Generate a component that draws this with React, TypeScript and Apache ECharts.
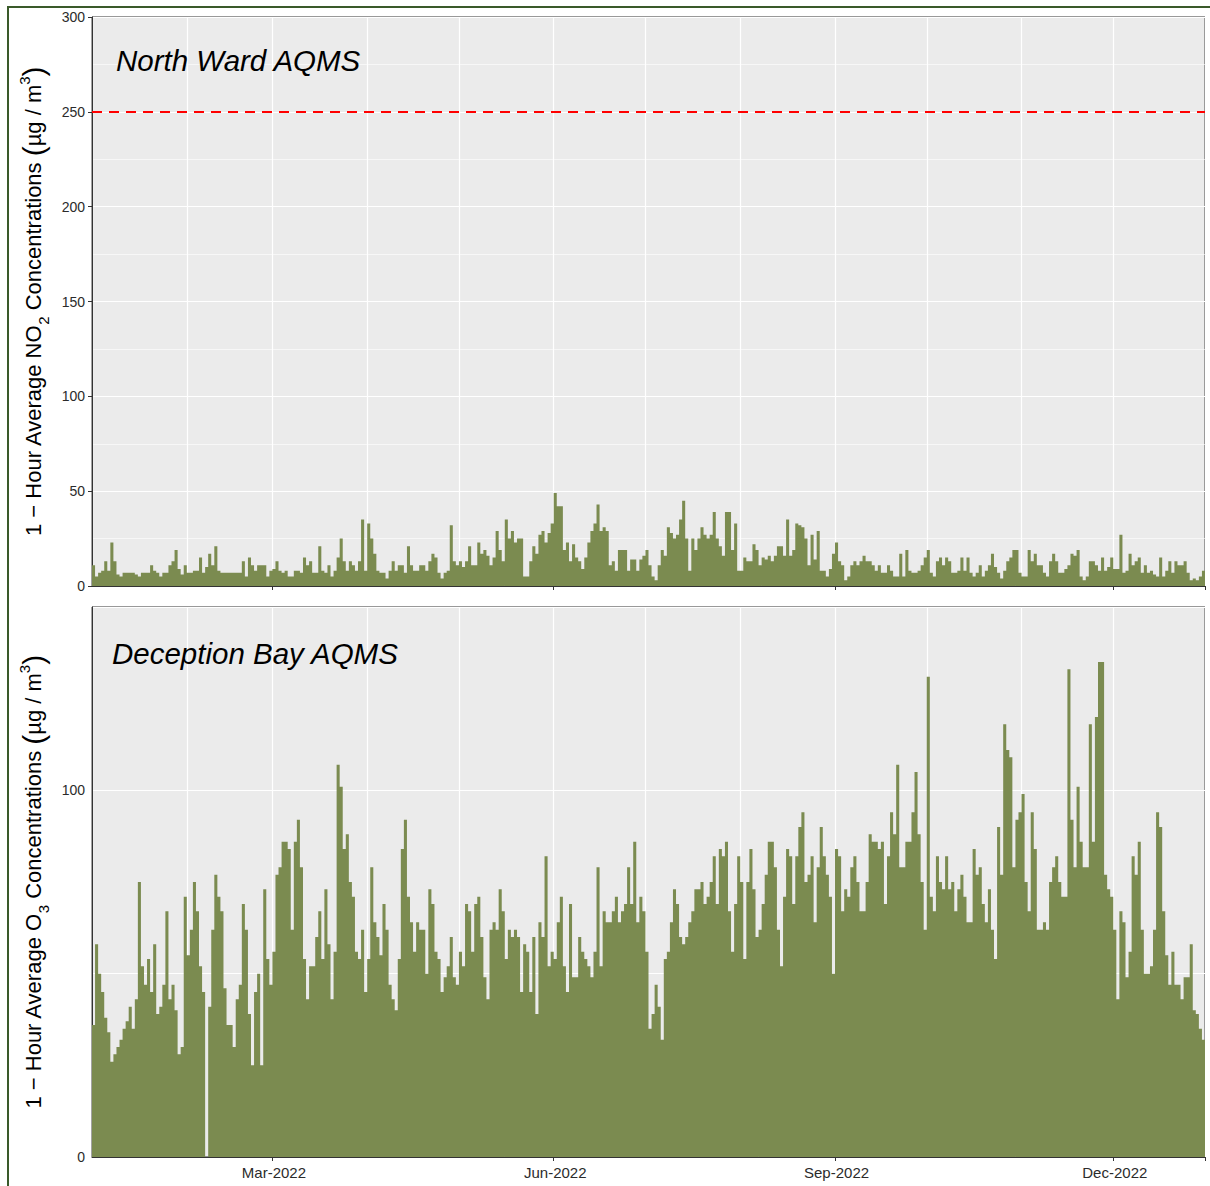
import React, { useEffect, useRef } from "react";
import * as echarts from "echarts";

// Daily 1-hour average NO2 at North Ward AQMS (µg/m³), 1 Jan – 30 Dec 2022
const NO2_VALUES: number[] = [
  11, 5, 7, 8, 13, 8, 23, 13, 6, 5,
  7, 7, 7, 7, 6, 5, 7, 7, 7, 11,
  8, 7, 5, 7, 7, 11, 13, 19, 9, 6,
  11, 7, 7, 8, 8, 15, 7, 10, 17, 11,
  21, 8, 7, 7, 7, 7, 7, 7, 7, 13,
  5, 15, 11, 8, 11, 11, 11, 5, 8, 9,
  13, 8, 7, 8, 5, 5, 8, 8, 7, 15,
  11, 13, 7, 7, 21, 8, 7, 11, 5, 8,
  15, 25, 13, 8, 13, 11, 8, 13, 35, 8,
  33, 25, 17, 8, 7, 7, 4, 8, 13, 8,
  11, 11, 7, 21, 11, 8, 8, 11, 11, 8,
  13, 17, 15, 7, 4, 7, 8, 32, 13, 11,
  13, 10, 13, 21, 11, 11, 23, 17, 19, 16,
  11, 15, 29, 19, 13, 35, 25, 29, 23, 25,
  25, 5, 5, 13, 21, 17, 27, 29, 23, 28,
  33, 49, 42, 42, 19, 23, 13, 22, 15, 13,
  9, 15, 23, 29, 33, 43, 29, 31, 29, 11,
  13, 8, 19, 19, 19, 8, 14, 14, 8, 14,
  16, 19, 11, 5, 3, 11, 19, 16, 31, 28,
  25, 27, 35, 45, 25, 8, 25, 19, 25, 31,
  27, 25, 27, 39, 25, 21, 16, 39, 39, 19,
  33, 8, 8, 15, 13, 13, 22, 19, 11, 15,
  14, 16, 13, 16, 21, 21, 16, 35, 16, 19,
  33, 32, 31, 25, 11, 27, 14, 29, 8, 8,
  5, 9, 17, 23, 13, 11, 3, 5, 11, 13,
  11, 13, 16, 13, 13, 11, 8, 11, 7, 7,
  11, 8, 5, 5, 17, 5, 19, 8, 7, 7,
  8, 11, 15, 19, 7, 5, 13, 15, 11, 15,
  13, 7, 7, 8, 15, 8, 15, 7, 5, 7,
  11, 5, 8, 11, 17, 10, 7, 4, 8, 13,
  15, 19, 19, 7, 5, 5, 19, 13, 17, 11,
  11, 7, 5, 13, 17, 13, 7, 7, 9, 11,
  17, 16, 19, 5, 3, 5, 13, 13, 11, 8,
  15, 8, 10, 15, 9, 9, 27, 7, 8, 17,
  11, 13, 15, 7, 11, 7, 8, 6, 5, 15,
  5, 8, 13, 7, 13, 11, 11, 13, 7, 3,
  4, 3, 5, 8,
];

// Daily 1-hour average O3 at Deception Bay AQMS (µg/m³), 1 Jan – 30 Dec 2022
const O3_VALUES: number[] = [
  36, 58, 50, 45, 38, 34, 26, 28, 30, 32,
  35, 37, 41, 35, 43, 75, 52, 47, 54, 45,
  58, 39, 41, 47, 67, 43, 47, 40, 28, 30,
  71, 55, 62, 75, 67, 52, 45, 0, 41, 62,
  77, 71, 67, 46, 36, 36, 30, 43, 47, 69,
  62, 39, 25, 45, 50, 25, 73, 54, 47, 56,
  77, 79, 86, 86, 84, 62, 86, 92, 79, 54,
  43, 52, 52, 60, 67, 54, 73, 58, 43, 56,
  107, 101, 84, 88, 75, 71, 56, 54, 62, 45,
  54, 79, 64, 60, 55, 69, 62, 47, 43, 40,
  54, 84, 92, 71, 64, 56, 64, 62, 62, 50,
  73, 69, 56, 54, 45, 49, 52, 60, 49, 47,
  56, 52, 69, 67, 56, 69, 71, 60, 49, 43,
  62, 64, 62, 73, 67, 54, 62, 60, 62, 60,
  45, 58, 56, 45, 60, 39, 64, 60, 82, 52,
  56, 54, 64, 71, 52, 45, 69, 49, 49, 60,
  56, 54, 52, 49, 56, 79, 52, 67, 64, 64,
  67, 71, 64, 67, 69, 79, 69, 86, 64, 71,
  67, 56, 35, 39, 47, 41, 32, 54, 56, 64,
  73, 69, 60, 58, 60, 64, 67, 73, 73, 75,
  69, 71, 75, 82, 69, 84, 82, 86, 67, 56,
  69, 82, 75, 54, 75, 84, 73, 60, 62, 69,
  77, 86, 86, 79, 62, 52, 71, 84, 82, 69,
  82, 90, 94, 75, 77, 82, 64, 79, 90, 82,
  77, 71, 50, 84, 82, 67, 73, 71, 79, 82,
  75, 67, 67, 75, 88, 86, 86, 84, 86, 69,
  82, 94, 88, 107, 79, 79, 86, 86, 94, 105,
  88, 75, 62, 131, 71, 67, 82, 75, 73, 82,
  73, 75, 67, 73, 77, 71, 64, 64, 84, 77,
  79, 69, 64, 73, 62, 54, 90, 77, 118, 111,
  109, 79, 92, 94, 99, 75, 67, 94, 84, 62,
  62, 64, 62, 75, 79, 82, 75, 71, 71, 133,
  92, 79, 101, 86, 79, 79, 118, 86, 120, 135,
  135, 77, 73, 71, 62, 43, 67, 64, 49, 56,
  82, 77, 86, 62, 50, 50, 52, 62, 94, 90,
  67, 55, 47, 56, 47, 47, 43, 49, 49, 58,
  40, 39, 35, 32,
];

// Category axis: one entry per day, starting 1 Jan 2022
const DAY_MS = 86400000;
const YEAR_START = Date.UTC(2022, 0, 1);
const DAYS: string[] = NO2_VALUES.map((_, i) =>
  new Date(YEAR_START + i * DAY_MS).toISOString().slice(0, 10)
);
const QUARTER_TICKS = ["2022-03-01", "2022-06-01", "2022-09-01", "2022-12-01"];
const QUARTER_LABELS = ["Mar-2022", "Jun-2022", "Sep-2022", "Dec-2022"];

const NO2_AXIS = { min: 0, max: 300, interval: 50 };
const O3_AXIS = { min: 0, max: 150, interval: 50 };
const O3_LABELLED_TICKS = [0, 100];
const NO2_STANDARD = 250;

const PANEL_TITLES = ["North Ward AQMS", "Deception Bay AQMS"];

const FONT = "'Liberation Sans', Arial, Helvetica, sans-serif";
const BAR_COLOR = "#7B8B50";
const PANEL_BG = "#EBEBEB";
const FRAME = "#333333";
const TEXT = "#2b2b2b";

const isMonthStart = (_i: number, v: string) => v.endsWith("-01");
const isQuarter = (_i: number, v: string) => QUARTER_TICKS.includes(v);

const nameRich = {
  t: { fontFamily: FONT, fontSize: 22, color: "#000", lineHeight: 26 },
  sub: { fontFamily: FONT, fontSize: 15, color: "#000", lineHeight: 18, verticalAlign: "bottom" },
  sup: { fontFamily: FONT, fontSize: 15, color: "#000", lineHeight: 20, verticalAlign: "top" },
  p: { fontFamily: FONT, fontSize: 30, color: "#000", lineHeight: 34 },
};

function xAxisFor(gridIndex: number, showLabels: boolean) {
  return {
    type: "category",
    gridIndex,
    data: DAYS,
    boundaryGap: true,
    axisLine: { show: true, lineStyle: { color: FRAME, width: 1 } },
    axisTick: {
      show: true,
      interval: isQuarter,
      length: 4,
      lineStyle: { color: FRAME, width: 1 },
    },
    axisLabel: {
      show: showLabels,
      interval: isQuarter,
      formatter: (v: string) => {
        const k = QUARTER_TICKS.indexOf(v);
        return k >= 0 ? QUARTER_LABELS[k] : "";
      },
      fontFamily: FONT,
      fontSize: 15,
      color: TEXT,
      margin: 8,
    },
    splitLine: {
      show: true,
      interval: isMonthStart,
      lineStyle: { color: "#FFFFFF", width: 1.2 },
    },
  };
}

export default function App() {
  const ref = useRef<HTMLDivElement>(null);

  useEffect(() => {
    if (!ref.current) return;
    const chart = echarts.init(ref.current, undefined, { renderer: "svg" });

    const titleStyle = {
      fontFamily: FONT,
      fontStyle: "italic",
      fontWeight: "normal",
      fontSize: 29.5,
      color: "#000",
    };

    const option: any = {
      animation: false,
      backgroundColor: "#FFFFFF",
      title: [
        { text: PANEL_TITLES[0], left: 116, top: 45, padding: 0, textStyle: titleStyle },
        { text: PANEL_TITLES[1], left: 112, top: 638, padding: 0, textStyle: titleStyle },
      ],
      grid: [
        {
          left: 92,
          top: 17,
          width: 1113,
          height: 569,
          show: true,
          backgroundColor: PANEL_BG,
          borderColor: FRAME,
          borderWidth: 1,
        },
        {
          left: 92,
          top: 607,
          width: 1113,
          height: 550,
          show: true,
          backgroundColor: PANEL_BG,
          borderColor: FRAME,
          borderWidth: 1,
        },
      ],
      xAxis: [xAxisFor(0, false), xAxisFor(1, true)],
      yAxis: [
        {
          type: "value",
          gridIndex: 0,
          min: NO2_AXIS.min,
          max: NO2_AXIS.max,
          interval: NO2_AXIS.interval,
          name:
            "{t|1 − Hour Average NO}{sub|2}{t| Concentrations }{p|(}{t|µg / m}{sup|3}{p|)}",
          nameLocation: "middle",
          nameRotate: 90,
          nameGap: 41,
          nameTextStyle: { rich: nameRich },
          axisLine: { show: true, lineStyle: { color: FRAME, width: 1 } },
          axisTick: { show: true, length: 4, lineStyle: { color: FRAME } },
          axisLabel: { fontFamily: FONT, fontSize: 14, color: TEXT, margin: 7 },
          splitLine: { show: true, lineStyle: { color: "#FFFFFF", width: 1.2 } },
          minorTick: { show: false, splitNumber: 2 },
          minorSplitLine: { show: true, lineStyle: { color: "#FFFFFF", width: 0.6 } },
        },
        {
          type: "value",
          gridIndex: 1,
          min: O3_AXIS.min,
          max: O3_AXIS.max,
          interval: O3_AXIS.interval,
          name:
            "{t|1 − Hour Average O}{sub|3}{t| Concentrations }{p|(}{t|µg / m}{sup|3}{p|)}",
          nameLocation: "middle",
          nameRotate: 90,
          nameGap: 41,
          nameTextStyle: { rich: nameRich },
          axisLine: { show: true, lineStyle: { color: FRAME, width: 1 } },
          axisTick: { show: false },
          axisLabel: {
            fontFamily: FONT,
            fontSize: 14,
            color: TEXT,
            margin: 7,
            formatter: (v: number) => (O3_LABELLED_TICKS.includes(v) ? String(v) : ""),
          },
          splitLine: { show: true, lineStyle: { color: "#FFFFFF", width: 1 } },
        },
      ],
      series: [
        {
          name: "NO2",
          type: "bar",
          xAxisIndex: 0,
          yAxisIndex: 0,
          data: NO2_VALUES,
          barCategoryGap: "0%",
          large: true,
          largeThreshold: 100,
          itemStyle: { color: BAR_COLOR },
          silent: true,
          markLine: {
            silent: true,
            symbol: ["none", "none"],
            label: { show: false },
            lineStyle: { color: "#FF0000", type: [10, 7], width: 2 },
            data: [{ yAxis: NO2_STANDARD }],
          },
        },
        {
          name: "O3",
          type: "bar",
          xAxisIndex: 1,
          yAxisIndex: 1,
          data: O3_VALUES,
          barCategoryGap: "0%",
          large: true,
          largeThreshold: 100,
          itemStyle: { color: BAR_COLOR },
          silent: true,
        },
      ],
    };

    chart.setOption(option);
    return () => chart.dispose();
  }, []);

  return (
    <div style={{ position: "absolute", left: 0, top: 0, width: 1210, height: 1186, background: "#fff", overflow: "hidden" }}>
      <div ref={ref} style={{ position: "absolute", left: 0, top: 0, width: 1210, height: 1186 }} />
      <div
        style={{
          position: "absolute",
          left: 7,
          top: 6,
          width: 1220,
          height: 1200,
          borderLeft: "2px solid #3A5A2A",
          borderTop: "2px solid #3A5A2A",
          pointerEvents: "none",
        }}
      />
    </div>
  );
}
